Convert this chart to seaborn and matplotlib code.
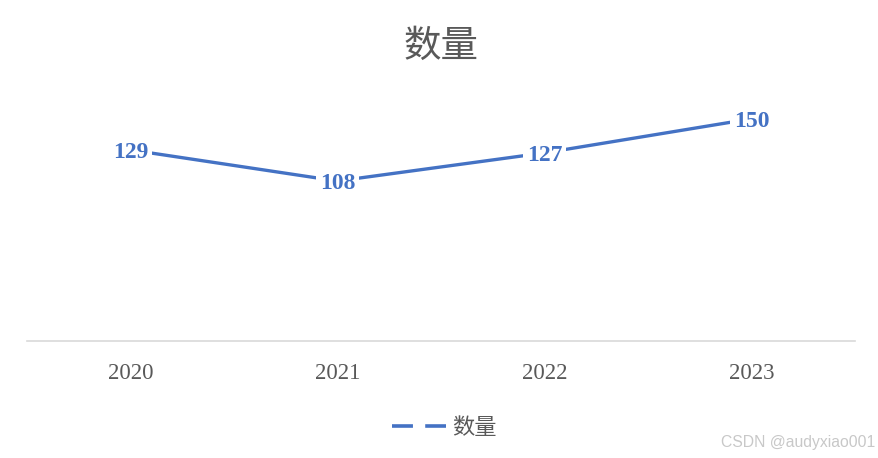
import matplotlib
matplotlib.use("Agg")
import matplotlib.pyplot as plt
import seaborn as sns
import pandas as pd
from matplotlib.lines import Line2D

years = ["2020", "2021", "2022", "2023"]
counts = [129, 108, 127, 150]
series_name = "数量"

sns.set_theme(style="white")
plt.rcParams['font.family'] = ['Noto Sans CJK SC', 'DejaVu Sans']

df = pd.DataFrame({"year": years, "count": counts, "idx": range(len(years))})

fig = plt.figure(figsize=(8.79, 4.58), dpi=100)
W, H = 879, 458
ax = fig.add_axes([27 / W, (H - 341) / H, (855 - 27) / W, (341 - 104) / H])

blue = "#4472C4"
sns.lineplot(data=df, x="idx", y="count", ax=ax, color=blue, linewidth=2.4,
             legend=False, solid_capstyle="butt")

for i, v in zip(df["idx"], df["count"]):
    ax.text(i, v, str(v), ha="center", va="center_baseline", color=blue,
            fontsize=17, fontweight="bold", family="Liberation Serif",
            bbox=dict(boxstyle="square,pad=0.15", fc="white", ec="none"),
            zorder=5)

ax.set_xlim(-0.5, len(years) - 0.5)
ax.set_ylim(0, 160)
ax.set_xticks(range(len(years)))
ax.set_xticklabels(years, family="Liberation Serif", fontsize=16.5, color="#595959")
ax.tick_params(axis="x", length=0, pad=16)
ax.set_yticks([])
ax.set_xlabel("")
ax.set_ylabel("")
for s in ["top", "left", "right"]:
    ax.spines[s].set_visible(False)
ax.spines["bottom"].set_color("#d9d9d9")
ax.spines["bottom"].set_linewidth(1.2)

fig.text(441 / W, 1 - 46 / H, series_name, ha="center", va="center",
         fontsize=27, color="#595959")

handle = Line2D([], [], color=blue, linewidth=2.6, linestyle=(0, (5.8, 3.4)))
leg = fig.legend([handle], [series_name], loc="center", bbox_to_anchor=(444 / W, 1 - 427 / H),
                 frameon=False, fontsize=16, handlelength=2.45, handletextpad=0.25)
for t in leg.get_texts():
    t.set_color("#595959")

fig.text(875 / W, 1 - 443 / H, "CSDN @audyxiao001", ha="right", va="center",
         fontsize=11.3, color="#c8c8c8", family="Liberation Sans")

fig.savefig("out.png", dpi=100)
